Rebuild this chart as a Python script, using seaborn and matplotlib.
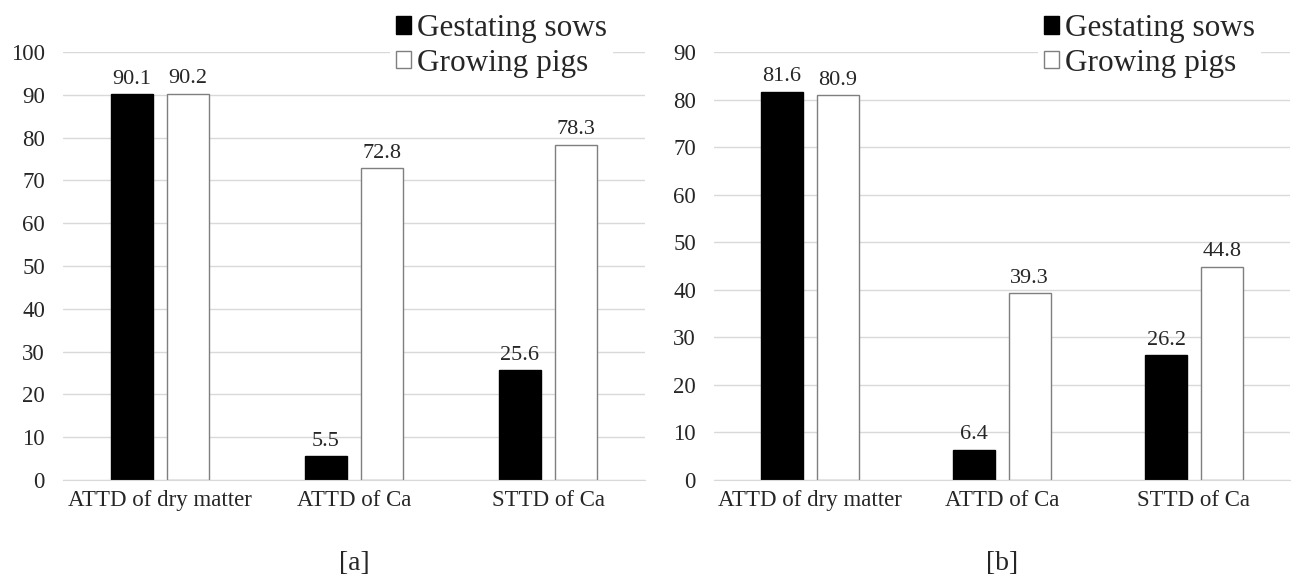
import pandas as pd
import seaborn as sns
import matplotlib.pyplot as plt
from matplotlib.patches import Patch

# values
measures = ['ATTD of dry matter', 'ATTD of Ca', 'STTD of Ca']
groups = ['Gestating sows', 'Growing pigs']
sows_a = [90.1, 5.5, 25.6]
pigs_a = [90.2, 72.8, 78.3]
sows_b = [81.6, 6.4, 26.2]
pigs_b = [80.9, 39.3, 44.8]
yticks_a = list(range(0, 101, 10))
yticks_b = list(range(0, 91, 10))

sns.set_style("white")
plt.rcParams['font.family'] = ['Liberation Serif', 'DejaVu Serif']

fill = {'Gestating sows': 'black', 'Growing pigs': 'white'}
edge = {'Gestating sows': 'black', 'Growing pigs': '#7f7f7f'}


def makeFrame(sows, pigs):
    rows = []
    for m, s, p in zip(measures, sows, pigs):
        rows.append({'measure': m, 'group': groups[0], 'value': s})
        rows.append({'measure': m, 'group': groups[1], 'value': p})
    return pd.DataFrame(rows)


def drawPanel(ax, sows, pigs, yticks, caption):
    df = makeFrame(sows, pigs)
    sns.barplot(data=df, x='measure', y='value', hue='group', order=measures,
                hue_order=groups, palette=fill, width=0.58, gap=0.25,
                legend=False, ax=ax)
    for cont, g in zip(ax.containers, groups):
        for bar in cont:
            bar.set_edgecolor(edge[g])
            bar.set_linewidth(1.0)
        ax.bar_label(cont, fmt='%.1f', padding=4, fontsize=16)
    ax.set_ylim(yticks[0], yticks[-1])
    ax.set_yticks(yticks)
    ax.set_xlim(-0.5, 2.5)
    ax.set_xlabel('')
    ax.set_ylabel('')
    ax.yaxis.grid(True, color='#d9d9d9', linewidth=1)
    ax.set_axisbelow(True)
    for s in ['top', 'right', 'left']:
        ax.spines[s].set_visible(False)
    ax.spines['bottom'].set_color('#d9d9d9')
    ax.tick_params(axis='both', length=0, labelsize=16.5)
    ax.tick_params(axis='y', pad=13)
    ax.tick_params(axis='x', pad=7)
    handles = [Patch(facecolor=fill[g], edgecolor=edge[g], label=g) for g in groups]
    leg = ax.legend(handles=handles, loc='upper left', bbox_to_anchor=(0.535, 1.14),
                    fontsize=22.5, frameon=True, facecolor='white', edgecolor='none',
                    framealpha=1, handlelength=0.48, handleheight=0.5,
                    handletextpad=0.18, labelspacing=0.18, borderpad=0.2)
    leg.set_zorder(5)
    ax.text(0.5, -0.195, caption, transform=ax.transAxes, ha='center',
            va='center', fontsize=20)


fig = plt.figure(figsize=(12.92, 5.8), dpi=100)
ax1 = fig.add_axes([0.0488, 0.1724, 0.4505, 0.738])
ax2 = fig.add_axes([0.5526, 0.1724, 0.4458, 0.738])

drawPanel(ax1, sows_a, pigs_a, yticks_a, '[a]')
drawPanel(ax2, sows_b, pigs_b, yticks_b, '[b]')

plt.savefig('out.png', dpi=100, facecolor='white')
